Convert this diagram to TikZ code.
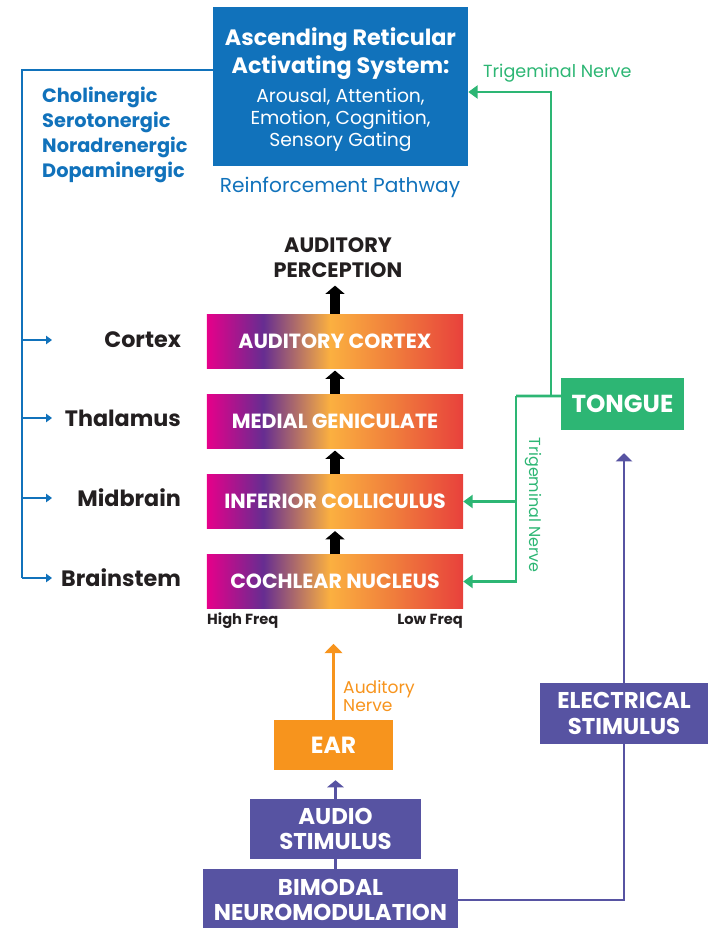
\documentclass[tikz,border=0pt]{standalone}
\usepackage{fontspec}
\setmainfont{Poppins}
\usetikzlibrary{arrows.meta}

\definecolor{rasblue}{HTML}{1172BB}
\definecolor{nervegreen}{HTML}{2DB674}
\definecolor{earorange}{HTML}{F7941D}
\definecolor{stimpurple}{HTML}{5753A2}
\definecolor{labeltext}{HTML}{231F20}
\definecolor{hfmag}{HTML}{E6008A}
\definecolor{hfpur}{HTML}{662D91}
\definecolor{midyel}{HTML}{FBB040}
\definecolor{lforg}{HTML}{F07F3C}
\definecolor{lfred}{HTML}{E8413C}

% tonotopic colour ramp, high freq on the left
\pgfdeclarehorizontalshading{tonotopy}{100bp}{color(0bp)=(hfmag); color(25bp)=(hfmag);
  color(36bp)=(hfpur); color(49bp)=(midyel); color(61bp)=(lforg); color(75bp)=(lfred); color(100bp)=(lfred)}

\newcommand\rastitle[1]{\fontsize{19}{18.8}\selectfont\bfseries #1}

\tikzset{
  relaybar/.style={shading=tonotopy, minimum width=7.68cm, minimum height=1.62cm, inner sep=0pt,
    text=white, font=\fontsize{17.5}{20}\selectfont\bfseries},
  stagelabel/.style={anchor=east, text=labeltext, font=\fontsize{19}{22}\selectfont\bfseries},
  upward/.style={line width=8.5pt, -{Triangle[width=16pt,length=7pt]}},
  rasline/.style={rasblue, line width=2.2pt},
  nerve/.style={nervegreen, line width=2.2pt},
  nervetag/.style={text=nervegreen},
  stimline/.style={stimpurple, line width=2.2pt},
  stimbox/.style={fill=stimpurple, text=white, align=center, inner sep=0pt,
    font=\fontsize{19.5}{21.5}\selectfont\bfseries},
}

\begin{document}
\begin{tikzpicture}[x=0.03cm, y=-0.03cm]
  \useasboundingbox (0,0) rectangle (708,928);

  % top box
  \node[fill=rasblue, minimum width=7.65cm, minimum height=4.77cm, inner sep=0pt] (ras) at (340.5,86.5) {};
  \node[text=white, align=center, inner sep=0pt, font=\fontsize{16}{18.8}\selectfont] (rastext)
    at ([yshift=-0.1cm]ras.center)
    {\rastitle{Ascending Reticular}\\[2.4pt]\rastitle{Activating System:}\\[6.2pt]
     Arousal, Attention,\\Emotion, Cognition,\\Sensory Gating};
  \node[text=rasblue, font=\fontsize{17.2}{20}\selectfont] (reinforce) at (340,187) {Reinforcement Pathway};
  \node[anchor=north west, align=left, text=rasblue, inner sep=0pt,
    font=\fontsize{16.5}{21.3}\selectfont\bfseries] (transmitters) at (42,87)
    {Cholinergic\\Serotonergic\\Noradrenergic\\Dopaminergic};

  % auditory pathway
  \node[align=center, text=labeltext, font=\fontsize{17.8}{21.3}\selectfont\bfseries] (percept) at (338,258)
    {AUDITORY\\PERCEPTION};
  \node[relaybar] (cortex) at (335,341) {AUDITORY CORTEX};
  \node[relaybar] (mgb) at (335,421) {MEDIAL GENICULATE};
  \node[relaybar] (ic) at (335,501.5) {INFERIOR COLLICULUS};
  \node[relaybar] (cn) at (335,581.5) {COCHLEAR NUCLEUS};

  \draw[upward, shorten >=3pt] (cortex.north) -- (cortex.north |- percept.south);
  \draw[upward, shorten >=2pt] (mgb.north) -- (cortex.south);
  \draw[upward, shorten >=2pt] (ic.north) -- (mgb.south);
  \draw[upward, shorten >=2pt] (cn.north) -- (ic.south);

  \node[stagelabel] (lcortex) at (185,340) {Cortex};
  \node[stagelabel] (lthal) at (185,418) {Thalamus};
  \node[stagelabel] (lmid) at (185,498) {Midbrain};
  \node[stagelabel] (lbrain) at (185,578) {Brainstem};

  \node[anchor=west, inner sep=0pt, text=labeltext, font=\fontsize{12.5}{14}\selectfont\bfseries] (hifreq) at (207,621) {High Freq};
  \node[anchor=east, inner sep=0pt, text=labeltext, font=\fontsize{12.5}{14}\selectfont\bfseries] (lofreq) at (463,621) {Low Freq};

  % neuromodulator spine
  \coordinate (spinetop) at (22,70);
  \coordinate (spinebot) at (22,578);
  \draw[rasline] (ras.west |- spinetop) -- (spinetop) -- (spinebot);
  \foreach \s in {lcortex,lthal,lmid,lbrain}
    \draw[rasline, -{Triangle[width=7pt,length=5pt]}] (spinetop |- \s) -- (52,0 |- \s);

  % tongue and trigeminal branches
  \node[fill=nervegreen, minimum width=3.69cm, minimum height=1.56cm, text=white,
    font=\fontsize{21}{24}\selectfont\bfseries] (tongue) at (622.5,404) {TONGUE};
  \coordinate (tsplit) at (516,396);
  \coordinate (tjoin) at (551,396);
  \draw[nerve] ([yshift=0.24cm]tongue.west) -- (tsplit);
  \draw[nerve, -{Triangle[width=11pt,length=8pt]}] (tsplit) |- (ic.east);
  \draw[nerve, -{Triangle[width=11pt,length=8pt]}] (tsplit) |- (cn.east);
  \draw[nerve, -{Triangle[width=11pt,length=8pt]}] (tjoin) |- ([yshift=-0.165cm]ras.east);
  \node[nervetag, anchor=west, font=\fontsize{15}{17}\selectfont] (trigtop) at (479,73) {Trigeminal Nerve};
  \node[nervetag, rotate=-90, font=\fontsize{13.6}{16}\selectfont] (trigside) at (533,505) {Trigeminal Nerve};

  % stimulation side
  \node[stimbox, minimum width=7.65cm, minimum height=1.86cm] (bimodal) at (330.5,900) {BIMODAL\\NEUROMODULATION};
  \node[stimbox, minimum width=5.13cm, minimum height=1.8cm] (audio) at (335.5,829) {AUDIO\\STIMULUS};
  \node[stimbox, minimum width=5.04cm, minimum height=1.83cm] (elec) at (624,713.5) {ELECTRICAL\\STIMULUS};
  \node[fill=earorange, minimum width=3.57cm, minimum height=1.5cm, text=white,
    font=\fontsize{20}{23}\selectfont\bfseries] (ear) at (333.5,745) {EAR};

  \draw[stimline] (audio.south) -- (audio.south |- bimodal.north);
  \draw[stimline, -{Triangle[width=14pt,length=6pt]}, shorten >=0.3cm] (audio.north) -- (audio.north |- ear.south);
  \draw[stimline] (bimodal.east) -| (elec.south);
  \draw[stimline, -{Triangle[width=14pt,length=7pt]}, shorten >=0.69cm] (elec.north) -- (elec.north |- tongue.south);

  \draw[earorange, line width=2.2pt, -{Triangle[width=15pt,length=8pt]}, shorten >=1.05cm]
    (ear.north) -- (ear.north |- cn.south);
  \node[anchor=west, align=left, inner sep=0pt, text=earorange, font=\fontsize{14.6}{13.7}\selectfont] (audnerve) at (343,696)
    {Auditory\\Nerve};
\end{tikzpicture}
\end{document}
